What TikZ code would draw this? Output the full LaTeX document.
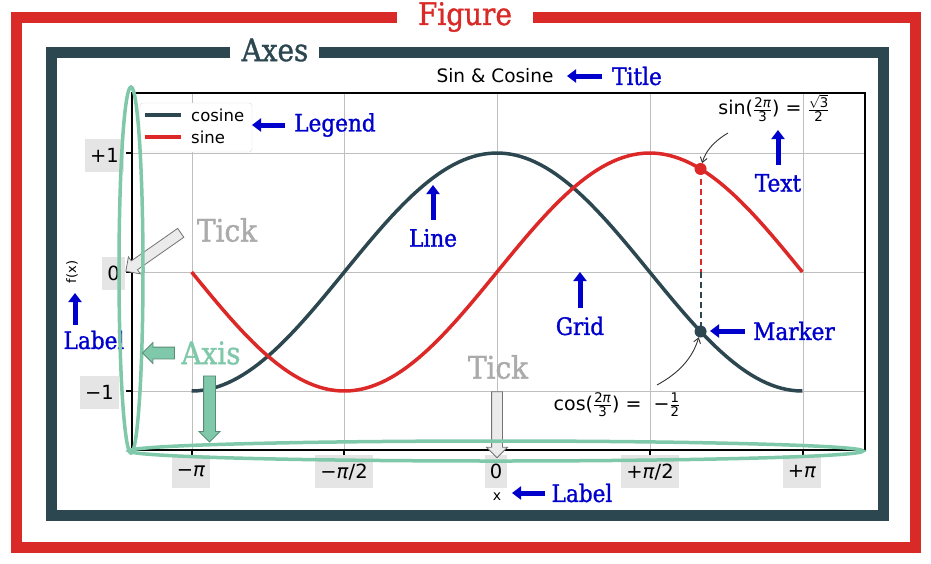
\RequirePackage{fix-cm}
\documentclass[tikz,border=0pt]{standalone}
\usepackage{amsmath}
\usepackage{fontspec}
\setmainfont{DejaVu Sans}
\newfontfamily\labelfont[FakeStretch=0.9,FakeBold=1.2]{DejaVu Serif}
\usetikzlibrary{arrows.meta,shapes.arrows}
\definecolor{FigClr}{RGB}{217,42,39}
\definecolor{AxesClr}{RGB}{44,71,80}
\definecolor{SinClr}{RGB}{221,40,40}
\definecolor{AxisClr}{RGB}{127,200,169}
\definecolor{NoteClr}{RGB}{0,0,205}
\definecolor{TickClr}{RGB}{171,171,171}
\definecolor{BoxClr}{RGB}{229,229,229}
\newcommand\piit{\textit{π}}

\begin{document}
\begin{tikzpicture}[x=1pt,y=-1pt,
  frame/.style={line width=11pt},
  big/.style={font=\labelfont\fontsize{31}{31}\selectfont,inner sep=0pt},
  note/.style={font=\labelfont\fontsize{24}{24}\selectfont,text=NoteClr,inner sep=0pt},
  notearrow/.style={draw=NoteClr,line width=5pt,-{Triangle[length=9pt,width=13pt]}},
  ticklbl/.style={fill=BoxClr,font=\fontsize{19.5}{19.5}\selectfont,minimum height=33pt,inner xsep=5pt},
  gridline/.style={black!25,line width=1pt},
  tickarr/.style={single arrow,draw=black!55,fill=black!8,line width=0.8pt,inner xsep=0pt,
    inner ysep=5pt,single arrow head extend=5pt},
  axisarr/.style={single arrow,draw=AxisClr!70!black,fill=AxisClr,line width=0.8pt,inner xsep=0pt,
    inner ysep=5.5pt,single arrow head extend=4.5pt},
  note eq/.style={font=\fontsize{19}{19}\selectfont,inner sep=0pt},
  pointer/.style={black!80,line width=0.9pt,-{Straight Barb[length=5pt,width=7pt]}}]
\useasboundingbox (0,0) rectangle (931,563);
\fill[white] (0,0) rectangle (931,563);

\node[big,text=FigClr] (fig) at (465,17) {Figure};
\draw[frame,FigClr] ([xshift=-21pt]fig.west) -- (16,17) -- (16,547) -- (915,547) -- (915,17) -- ([xshift=21pt]fig.east);
\node[big,text=AxesClr] (axs) at (275,50) {Axes};
\draw[frame,AxesClr] ([xshift=-11pt]axs.west |- 0,52) -- (51,52) -- (51,515) -- (883,515) -- (883,52) -- ([xshift=10pt]axs.east |- 0,52);

\foreach \gx in {192,344,497,650,803}
  \draw[gridline] (\gx,93) -- (\gx,450);
\foreach \gy in {153,272,391}
  \draw[gridline] (132,\gy) -- (865,\gy);
\draw[line width=1.2pt] (132,93) rectangle (865,450);
\foreach \gx in {192,344,497,650,803}
  \draw[line width=1.2pt] (\gx,450) -- (\gx,456);
\foreach \gy in {153,272,391}
  \draw[line width=1.2pt] (132,\gy) -- (126,\gy);

\node[ticklbl,anchor=east] (yp) at (124,155) {+1};
\node[ticklbl,anchor=east] (yz) at (125,273) {0};
\node[ticklbl,anchor=east] (ym) at (119,392) {−1};
\node[ticklbl,anchor=north] (xa) at (191,455) {−\piit};
\node[ticklbl,anchor=north] (xb) at (344,455) {−\piit/2};
\node[ticklbl,anchor=north] (xc) at (496,455) {0};
\node[ticklbl,anchor=north] (xd) at (650,455) {+\piit/2};
\node[ticklbl,anchor=north] (xe) at (802,455) {+\piit};
\node[font=\fontsize{14}{14}\selectfont,inner sep=0pt] (xl) at (497,497) {x};
\node[font=\fontsize{13}{13}\selectfont,inner sep=0pt,rotate=90] (yl) at (72,272) {f(x)};
\node[font=\fontsize{18.5}{18.5}\selectfont,inner sep=0pt] (ttl) at (495,76) {Sin \& Cosine};

\draw[black!15,fill=white,rounded corners=3pt] (140,103) rectangle (252,152);
\draw[AxesClr,line width=3.5pt] (145,115) -- (181,115);
\draw[SinClr,line width=3.5pt] (145,137) -- (181,137);
\node[font=\fontsize{16.5}{16.5}\selectfont,inner sep=0pt,anchor=west] (lgc) at (191,115) {cosine};
\node[font=\fontsize{16.5}{16.5}\selectfont,inner sep=0pt,anchor=west] (lgs) at (191,137) {sine};

\begin{scope}[shift={(497,272)},x=97.2pt,y=119pt]
\draw[AxesClr,line width=3.5pt] plot[domain=-pi:pi,samples=120] (\x,{cos(\x r)});
\draw[SinClr,line width=3.5pt] plot[domain=-pi:pi,samples=120] (\x,{sin(\x r)});
\coordinate (S) at ({2*pi/3},{sin(120)});
\coordinate (C) at ({2*pi/3},{cos(120)});
\coordinate (Z) at ({2*pi/3},0);
\end{scope}
\draw[SinClr,line width=2pt,dash pattern=on 6pt off 4pt] (S) -- (Z);
\draw[AxesClr,line width=2pt,dash pattern=on 6pt off 4pt] (Z) -- (C);
\fill[SinClr] (S) circle[radius=6pt];
\fill[AxesClr] (C) circle[radius=6pt];

\node[note eq] (sn) at (774,108) {sin($\frac{\text{2\piit}}{\text{3}}$) = $\frac{\sqrt{\text{3}}}{\text{2}}$};
\node[note eq] (cn) at (617,405) {cos($\frac{\text{2\piit}}{\text{3}}$) = \ −$\frac{\text{1}}{\text{2}}$};
\coordinate (snA) at (728,133);
\coordinate (cnA) at (657,385);
\draw[pointer,shorten >=6pt] (snA) to[bend right=22] (S);
\draw[pointer,shorten >=6pt] (cnA) to[bend right=22] (C);

\node[note] (ttlN) at (637,76) {Title};
\coordinate (ttlT) at (567,76);
\draw[notearrow,shorten <=10pt] (ttlN) -- (ttlT);
\node[note] (lgN) at (335,125) {Legend};
\coordinate (lgT) at (252,125);
\draw[notearrow,shorten <=9pt] (lgN) -- (lgT);
\node[note] (lnN) at (433,238) {Line};
\coordinate (lnT) at (433,185);
\draw[notearrow,shorten <=9pt] (lnN) -- (lnT);
\node[note] (txN) at (778,183) {Text};
\coordinate (txT) at (778,130);
\draw[notearrow,shorten <=9pt] (txN) -- (txT);
\node[note] (grN) at (580,326) {Grid};
\coordinate (grT) at (580,272);
\draw[notearrow,shorten <=9pt] (grN) -- (grT);
\node[note] (mkN) at (794,331) {Marker};
\coordinate (mkT) at (710,331);
\draw[notearrow,shorten <=8pt] (mkN) -- (mkT);
\node[note] (lxN) at (582,493) {Label};
\coordinate (lxT) at (512,493);
\draw[notearrow,shorten <=6pt] (lxN) -- (lxT);
\node[note] (lyN) at (94,340) {Label};
\coordinate (lyT) at (75,293);
\draw[notearrow,shorten <=6pt] (lyN.north -| lyT) -- (lyT);

\node[big,text=TickClr] (tkN) at (227,230) {Tick};
\node[big,text=TickClr] (tkM) at (498,367) {Tick};
\node[tickarr,minimum height=67pt,rotate=215] (tka) at (155.5,250.5) {};
\node[tickarr,minimum height=66pt,rotate=-90] (tkb) at (497,422) {};

\draw[AxisClr,line width=3.5pt] (131,270) ellipse[x radius=12,y radius=183];
\draw[AxisClr,line width=3.5pt] (496,451) ellipse[x radius=367,y radius=10];
\node[big,text=AxisClr] (axN) at (211,353) {Axis};
\node[axisarr,minimum height=32pt,rotate=180] (axa) at (161.5,353) {};
\node[axisarr,minimum height=66pt,rotate=-90] (axb) at (209.5,406) {};
\end{tikzpicture}
\end{document}
